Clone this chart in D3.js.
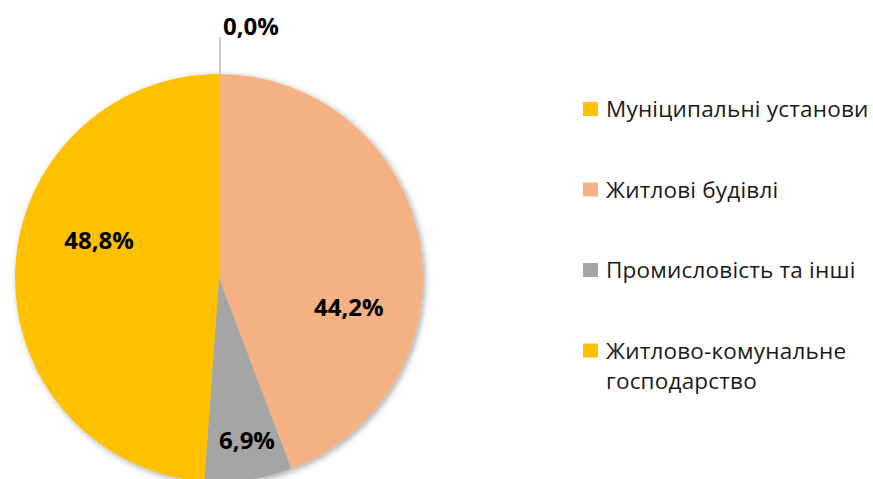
<!DOCTYPE html>
<html>
<head>
<meta charset="utf-8">
<script src="https://cdn.jsdelivr.net/npm/d3@7"></script>
<style>
  html, body { margin: 0; padding: 0; background: #fff; }
  svg { display: block; font-family: "Open Sans", Lato, sans-serif; }
</style>
</head>
<body>
<svg id="chart" width="873" height="479"></svg>
<script>
// chart data
var categories = ['Муніципальні установи', 'Житлові будівлі', 'Промисловість та інші', 'Житлово-комунальне господарство'];
var values = [0.0, 44.2, 6.9, 48.8];
var labels = ['0,0%', '44,2%', '6,9%', '48,8%'];
var colors = ['#FFC000', '#F4B183', '#A5A5A5', '#FFC000'];

// layout (not data)
var cx = 219, cy = 278, R = 204, labelR = 132;
var labelShift = [[0, 0], [0, 53], [9, 32], [12, -33]];

var svg = d3.select('#chart');

var defs = svg.append('defs');
var f = defs.append('filter').attr('id', 'shadow')
    .attr('x', '-10%').attr('y', '-10%').attr('width', '120%').attr('height', '120%');
f.append('feDropShadow')
    .attr('dx', 2).attr('dy', 2).attr('stdDeviation', 3)
    .attr('flood-color', '#000').attr('flood-opacity', 0.35);

var pie = d3.pie().sort(null).value(function (d) { return d; });
var arcs = pie(values);
var arc = d3.arc().innerRadius(0).outerRadius(R);
var labelArc = d3.arc().innerRadius(labelR).outerRadius(labelR);

var g = svg.append('g').attr('transform', 'translate(' + cx + ',' + cy + ')');

g.append('g').attr('filter', 'url(#shadow)')
  .selectAll('path')
  .data(arcs)
  .enter().append('path')
    .attr('d', arc)
    .attr('fill', function (d, i) { return colors[i]; });

// slice labels
arcs.forEach(function (d, i) {
    if (d.value === 0) {
        // zero slice: leader line straight up to the label
        var a = d.startAngle;
        var x0 = R * Math.sin(a), y0 = -R * Math.cos(a);
        g.append('line')
            .attr('x1', x0 + 1).attr('y1', y0)
            .attr('x2', x0 + 1).attr('y2', 37 - cy)
            .attr('stroke', '#a6a6a6').attr('stroke-width', 1.2);
        g.append('text')
            .attr('x', x0 + 4).attr('y', 35 - cy)
            .attr('font-size', 24).attr('font-weight', 'bold').attr('fill', '#000')
            .text(labels[i]);
        return;
    }
    var c = labelArc.centroid(d);
    g.append('text')
        .attr('x', c[0] + labelShift[i][0])
        .attr('y', c[1] + labelShift[i][1])
        .attr('dy', '0.36em')
        .attr('text-anchor', 'middle')
        .attr('font-size', 24).attr('font-weight', 'bold').attr('fill', '#000')
        .text(labels[i]);
});

// legend
var legend = svg.append('g').attr('transform', 'translate(583,117)');
var rowH = 80.5;
var item = legend.selectAll('g').data(categories).enter().append('g')
    .attr('transform', function (d, i) { return 'translate(0,' + (i * rowH) + ')'; });

item.append('rect')
    .attr('x', 0).attr('y', -15).attr('width', 15).attr('height', 14)
    .attr('fill', function (d, i) { return colors[i]; });

item.append('text')
    .attr('x', 23).attr('y', 0)
    .attr('font-size', 22.5).attr('letter-spacing', 0.2).attr('fill', '#1a1a1a')
    .each(function (d) {
        var t = d3.select(this);
        var parts = d === 'Житлово-комунальне господарство' ? ['Житлово-комунальне', 'господарство'] : [d];
        parts.forEach(function (p, k) {
            t.append('tspan').attr('x', 23).attr('dy', k ? 30 : 0).text(p);
        });
    });
</script>
</body>
</html>
